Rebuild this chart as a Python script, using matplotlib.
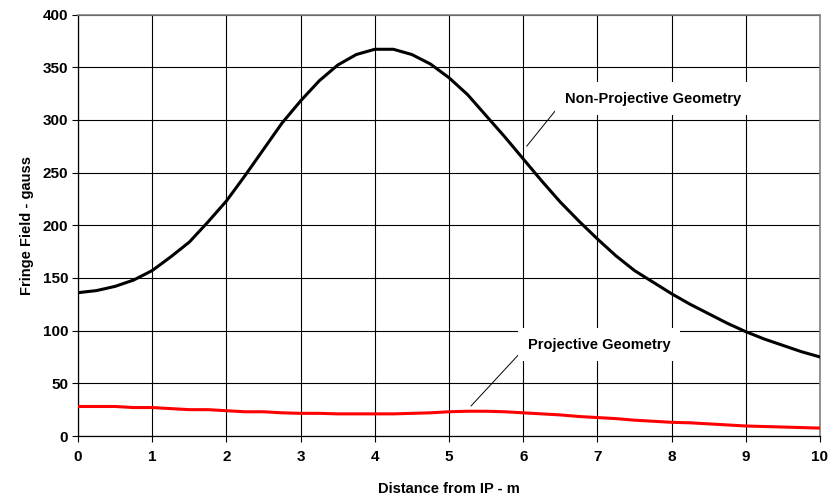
import matplotlib
matplotlib.use("Agg")
import matplotlib.pyplot as plt

plt.rcParams['font.family'] = ['Liberation Sans', 'DejaVu Sans']
plt.rcParams['font.weight'] = 'bold'

# Distance from IP (m), sampled every 0.25 m
distance = [0.0, 0.25, 0.5, 0.75, 1.0, 1.25, 1.5, 1.75, 2.0, 2.25, 2.5, 2.75,
            3.0, 3.25, 3.5, 3.75, 4.0, 4.25, 4.5, 4.75, 5.0, 5.25, 5.5, 5.75,
            6.0, 6.25, 6.5, 6.75, 7.0, 7.25, 7.5, 7.75, 8.0, 8.25, 8.5, 8.75,
            9.0, 9.25, 9.5, 9.75, 10.0]

# Fringe field (gauss), non-projective geometry
non_projective = [136, 138, 142, 148, 157, 170, 184, 203, 223, 247, 272, 297,
                  318, 337, 352, 362, 367, 367, 362, 353, 340, 324, 304, 284,
                  263, 242, 222, 204, 187, 171, 157, 146, 135, 125, 116, 107,
                  99, 92, 86, 80, 75]

# Fringe field (gauss), projective geometry
projective = [28, 28, 28, 27, 27, 26, 25, 25, 24, 23, 23, 22,
              21.5, 21.5, 21, 21, 21, 21, 21.5, 22, 23, 23.5, 23.5, 23,
              22, 21, 20, 18.5, 17.5, 16.5, 15, 14, 13, 12.5, 11.5, 10.5,
              9.5, 9, 8.5, 8, 7.5]

x_ticks = [0, 1, 2, 3, 4, 5, 6, 7, 8, 9, 10]
y_ticks = [0, 50, 100, 150, 200, 250, 300, 350, 400]

fig = plt.figure(figsize=(8.4, 4.95), dpi=100)
ax = fig.add_axes([78 / 840, 1 - 436 / 495, 742 / 840, 421.5 / 495])

ax.plot(distance, non_projective, color='black', lw=2.2, zorder=3,
        solid_joinstyle='miter')
ax.plot(distance, projective, color='#ff0000', lw=2.2, zorder=3)

ax.set_xlim(0, 10)
ax.set_ylim(0, 400)
ax.set_xticks(x_ticks)
ax.set_yticks(y_ticks)
ax.set_xticklabels([str(v) for v in x_ticks])
ax.set_yticklabels([str(v) for v in y_ticks])
ax.grid(True, color='black', lw=0.8, zorder=1)
ax.set_axisbelow(True)

ax.tick_params(axis='both', direction='out', length=4, width=0.8,
               labelsize=11, color='black')
ax.tick_params(axis='y', pad=3)
ax.tick_params(axis='x', pad=6)

for side in ('left', 'bottom'):
    ax.spines[side].set_color('black')
    ax.spines[side].set_linewidth(0.9)
for side in ('top', 'right'):
    ax.spines[side].set_color('#808080')
    ax.spines[side].set_linewidth(1.2)

ax.set_xlabel('Distance from IP - m', fontsize=10.5, fontweight='bold',
              labelpad=13)
ax.set_ylabel('Fringe Field - gauss', fontsize=10.5, fontweight='bold',
              labelpad=6)

box = dict(boxstyle='square,pad=0.65', facecolor='white', edgecolor='none')
ax.annotate('Non-Projective Geometry', xy=(6.047, 275), xytext=(6.563, 320),
            fontsize=10.5, fontweight='bold', va='center', ha='left', bbox=box,
            zorder=4,
            arrowprops=dict(arrowstyle='-', color='black', lw=0.7,
                            shrinkA=0, shrinkB=0, relpos=(0.0, 0.5)))
ax.annotate('Projective Geometry', xy=(5.297, 28.5), xytext=(6.06, 86.5),
            fontsize=10.5, fontweight='bold', va='center', ha='left', bbox=box,
            zorder=4,
            arrowprops=dict(arrowstyle='-', color='black', lw=0.7,
                            shrinkA=0, shrinkB=0, relpos=(0.0, 0.5)))

fig.savefig('out.png', dpi=100)
